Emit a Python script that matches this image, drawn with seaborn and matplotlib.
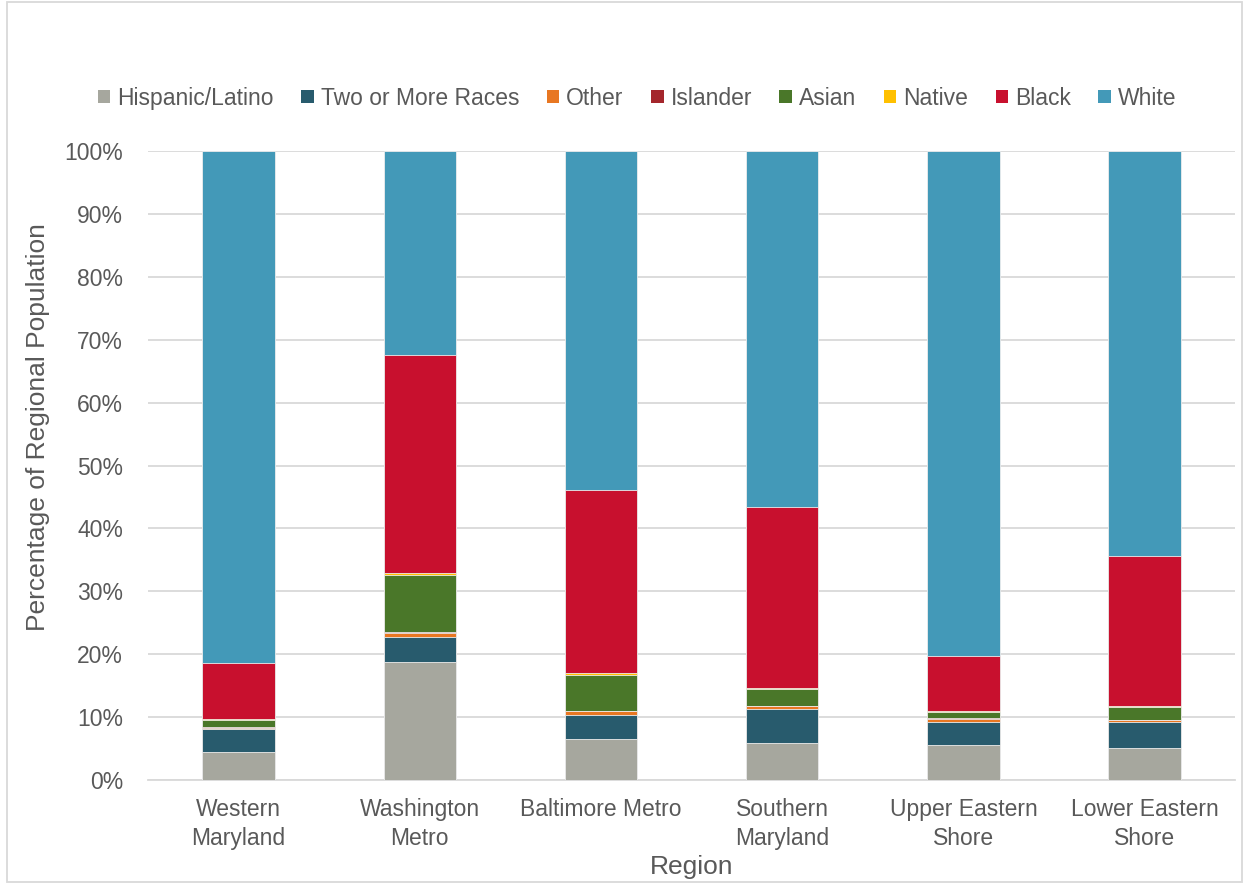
import numpy as np
import pandas as pd
import matplotlib.pyplot as plt
import seaborn as sns
from matplotlib.patches import Rectangle, Patch
from matplotlib.ticker import PercentFormatter

# -------------------------------------------------------------
# DATA (percent of regional population)
# -------------------------------------------------------------
regions = ["Western\nMaryland", "Washington\nMetro", "Baltimore Metro",
           "Southern\nMaryland", "Upper Eastern\nShore", "Lower Eastern\nShore"]
groups = ["Hispanic/Latino", "Two or More Races", "Other", "Islander",
          "Asian", "Native", "Black", "White"]

hispanic = [4.5, 18.8, 6.5, 5.9, 5.6, 5.1]
two_more = [3.55, 3.9, 3.85, 5.4, 3.55, 4.05]
other = [0.3, 0.7, 0.55, 0.45, 0.6, 0.4]
islander = [0.05, 0.1, 0.05, 0.05, 0.05, 0.05]
asian = [1.2, 9.1, 5.8, 2.6, 1.05, 1.95]
native = [0.1, 0.3, 0.2, 0.2, 0.15, 0.15]
black = [8.95, 34.7, 29.2, 28.8, 8.7, 23.9]
white = [81.35, 32.4, 53.85, 56.6, 80.3, 64.4]

colors = ["#A6A79E", "#285B6D", "#E87722", "#A4262C",
          "#4A7729", "#FFC000", "#C8102E", "#4399B8"]

series = [hispanic, two_more, other, islander, asian, native, black, white]

# cumulative tops so we can overlay seaborn bars from the top layer down
cum = np.cumsum(np.array(series), axis=0)

text_col = "#595959"
grid_col = "#D9D9D9"

sns.set_theme(style="white")
plt.rcParams['font.family'] = ['Liberation Sans', 'DejaVu Sans']

fig = plt.figure(figsize=(12.49, 8.84), dpi=100)
ax = fig.add_axes([0.1185, 0.1176, 0.8705, 0.7115])

for i in range(len(groups) - 1, -1, -1):
    df = pd.DataFrame({"Region": regions, "Value": cum[i]})
    sns.barplot(data=df, x="Region", y="Value", color=colors[i], width=0.4,
                saturation=1, edgecolor="#EDEDED", linewidth=0.6, ax=ax, zorder=3)

ax.set_ylim(0, 100)
ax.set_xlim(-0.5, 5.5)
ax.set_yticks(np.arange(0, 101, 10))
ax.yaxis.set_major_formatter(PercentFormatter(decimals=0))
ax.grid(axis='y', color=grid_col, linewidth=1.3, zorder=0)
ax.set_axisbelow(True)
for s in ["top", "right", "left"]:
    ax.spines[s].set_visible(False)
ax.spines["bottom"].set_color(grid_col)
ax.spines["bottom"].set_linewidth(1.3)
ax.tick_params(axis='both', length=0, labelsize=16.5, colors=text_col)
ax.tick_params(axis='y', pad=18)
ax.tick_params(axis='x', pad=13)
for lab in ax.get_xticklabels():
    lab.set_linespacing(1.34)

ax.set_xlabel("Region", fontsize=19, color=text_col)
ax.xaxis.set_label_coords(0.5, -0.119)
ax.set_ylabel("Percentage of Regional Population", fontsize=19, color=text_col)
ax.yaxis.set_label_coords(-0.090, 0.561)

handles = [Patch(facecolor=c, edgecolor="none") for c in colors]
fig.legend(handles, groups, loc="center", bbox_to_anchor=(0.51, 0.889), ncol=8,
           frameon=False, fontsize=16.5, handlelength=0.55, handleheight=0.55,
           handletextpad=0.3, columnspacing=1.2, labelcolor=text_col)

# light chart border like the original
fig.patches.append(Rectangle((0.006, 0.002), 0.988, 0.996, transform=fig.transFigure,
                             fill=False, edgecolor=grid_col, linewidth=1.3))

fig.savefig("out.png", dpi=100)
